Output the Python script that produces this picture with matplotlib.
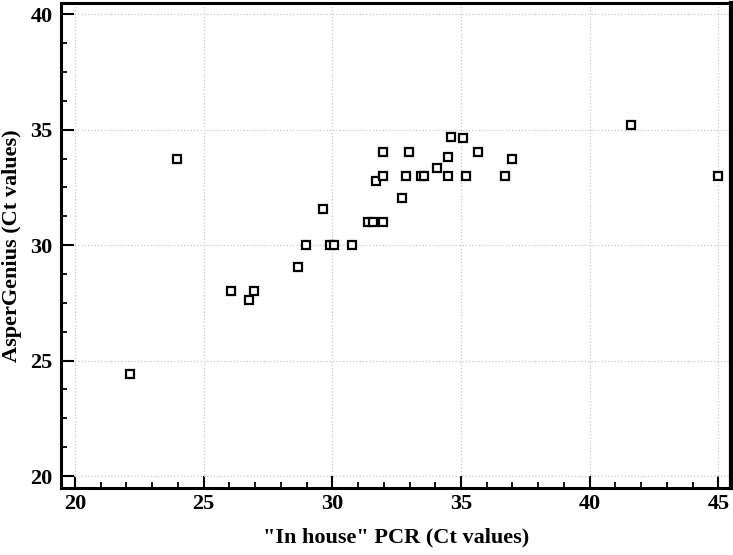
import matplotlib
matplotlib.use("Agg")
import matplotlib.pyplot as plt
from matplotlib.ticker import MultipleLocator

# Ct values
in_house_ct = [
    22.15, 23.96, 26.07, 26.94, 26.76, 28.68, 28.98, 29.65, 29.91, 30.08,
    30.77, 31.37, 31.58, 31.97, 31.69, 32.69, 31.97, 32.88, 33.43, 33.56,
    34.48, 35.18, 36.70, 34.06, 34.48, 36.97, 31.97, 32.99, 35.67, 34.60,
    35.09, 41.60, 45.00,
]
aspergenius_ct = [
    24.41, 33.72, 28.00, 28.00, 27.61, 29.04, 30.01, 31.58, 30.01, 30.01,
    30.01, 30.99, 30.99, 30.99, 32.78, 32.02, 33.00, 33.00, 33.00, 33.00,
    33.00, 33.00, 33.00, 33.33, 33.81, 33.72, 34.02, 34.02, 34.02, 34.70,
    34.63, 35.21, 32.99,
]

plt.rcParams["font.family"] = ["Liberation Serif", "DejaVu Serif"]
plt.rcParams["font.weight"] = "bold"

fig = plt.figure(figsize=(7.33, 5.55), dpi=100)
ax = fig.add_axes([0.0832, 0.1207, 0.9141, 0.8744])

ax.plot(in_house_ct, aspergenius_ct, linestyle="none", marker="s",
        markersize=5.8, markerfacecolor="white", markeredgecolor="black",
        markeredgewidth=1.6, zorder=3)

ax.set_xlim(19.46, 45.49)
ax.set_ylim(19.48, 40.5)

ax.xaxis.set_major_locator(MultipleLocator(5))
ax.xaxis.set_minor_locator(MultipleLocator(1))
ax.yaxis.set_major_locator(MultipleLocator(5))
ax.yaxis.set_minor_locator(MultipleLocator(1.25))

ax.tick_params(which="major", direction="in", length=9, width=1.5,
               labelsize=16)
ax.tick_params(axis="x", which="major", pad=4)
ax.tick_params(axis="y", which="major", pad=6)
ax.tick_params(which="minor", direction="in", length=4.5, width=1.3)
ax.tick_params(top=False, right=False, which="both")

for spine in ax.spines.values():
    spine.set_linewidth(2.2)
ax.spines["right"].set_linewidth(3.0)

ax.grid(True, which="major", linestyle=":", color="#c8c8c8", linewidth=0.9)
ax.set_axisbelow(True)

ax.set_xlabel('"In house" PCR (Ct values)', fontsize=16, fontweight="bold",
              labelpad=10)
ax.set_ylabel("AsperGenius (Ct values)", fontsize=16, fontweight="bold",
              labelpad=6)

fig.savefig("out.png", dpi=100)
